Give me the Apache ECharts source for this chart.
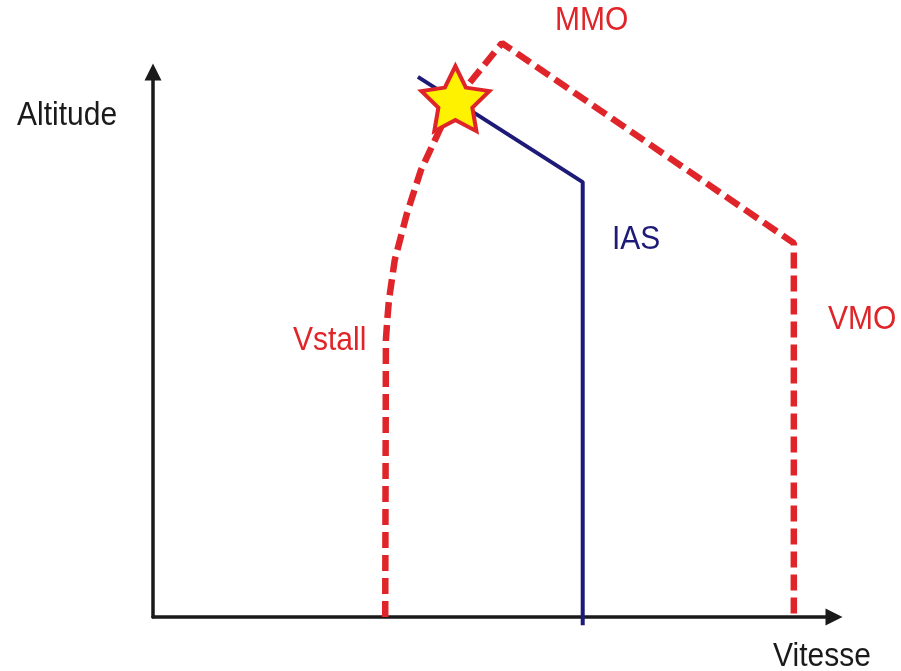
<!DOCTYPE html>
<html>
<head>
<meta charset="utf-8">
<script src="https://cdn.jsdelivr.net/npm/echarts@6/dist/echarts.min.js"></script>
<style>html,body{margin:0;padding:0;background:#fff}#c{width:901px;height:671px}</style>
</head>
<body>
<div id="c"></div>
<script>
// Envelope limits (speed 0-100, altitude 0-100, arbitrary units)
const vstallSpeed = [34.1, 34.2, 34.4, 34.65, 35.5, 37.3, 39.35, 42.1, 44.35];
const vstallAlt   = [0,    50.8, 54.5, 58.2, 65.5, 74.1, 82.0, 89.4, 94.7];
const mmoSpeed    = [44.35, 51.25, 94.1];
const mmoAlt      = [94.7, 105.3, 68.6];
const vmoSpeed    = [94.1, 94.1];
const vmoAlt      = [68.6, 0];
const iasSpeed    = [38.9, 63.1, 63.1];
const iasAlt      = [99.1, 79.8, -1.5];
const starPoint   = [44.4, 95.1];
const labels = {
  yName: 'Altitude', xName: 'Vitesse',
  mmo: 'MMO', vmo: 'VMO', vstall: 'Vstall', ias: 'IAS'
};

const red = '#DF2529', navy = '#1E1B78';
function zip(a, b) { return a.map((v, i) => [v, b[i]]); }
const envelope = zip(vstallSpeed, vstallAlt)
  .concat(zip(mmoSpeed, mmoAlt).slice(1))
  .concat(zip(vmoSpeed, vmoAlt).slice(1));

function starPath(ratio) {
  let pts = [];
  for (let i = 0; i < 10; i++) {
    const r = i % 2 === 0 ? 50 : 50 * ratio;
    const a = -Math.PI / 2 + i * Math.PI / 5;
    pts.push((50 + r * Math.cos(a)).toFixed(2) + ' ' + (50 + r * Math.sin(a)).toFixed(2));
  }
  return 'path://M' + pts.join(' L') + ' Z';
}

const font = '"Liberation Sans", Arial, sans-serif';
function txt(x, y, t, color) {
  return { type: 'text', x: x, y: y, z: 100, scaleY: 1.12,
    style: { text: t, fill: color, font: '30px ' + font, align: 'left', verticalAlign: 'middle' } };
}

const chart = echarts.init(document.getElementById('c'), null, { renderer: 'canvas' });
chart.setOption({
  animation: false,
  backgroundColor: '#fff',
  grid: { left: 153, right: 67, top: 72, bottom: 54 },
  xAxis: {
    type: 'value', min: 0, max: 100,
    axisLine: { show: true, onZero: false, symbol: ['none', 'triangle'], symbolSize: [17, 17],
      lineStyle: { color: '#1a1a1a', width: 3.5 } },
    axisTick: { show: false }, axisLabel: { show: false }, splitLine: { show: false }
  },
  yAxis: {
    type: 'value', min: 0, max: 100,
    axisLine: { show: true, onZero: false, symbol: ['none', 'triangle'], symbolSize: [17, 17],
      lineStyle: { color: '#1a1a1a', width: 3.5 } },
    axisTick: { show: false }, axisLabel: { show: false }, splitLine: { show: false }
  },
  series: [
    { type: 'line', data: envelope, symbol: 'none', clip: false, z: 2,
      lineStyle: { color: red, width: 6.5, type: [16, 7] } },
    { type: 'line', data: zip(iasSpeed, iasAlt), symbol: 'none', clip: false, z: 3,
      lineStyle: { color: navy, width: 4 } },
    { type: 'scatter', data: [starPoint], symbol: starPath(0.5), symbolSize: [68, 65], z: 5, clip: false,
      itemStyle: { color: '#FFF200', borderColor: red, borderWidth: 4, opacity: 1 } }
  ],
  graphic: [
    txt(17, 116, labels.yName, '#1a1a1a'),
    txt(773, 657, labels.xName, '#1a1a1a'),
    txt(555, 21, labels.mmo, red),
    txt(612, 240, labels.ias, navy),
    txt(828, 320, labels.vmo, red),
    txt(293, 341, labels.vstall, red)
  ]
});
</script>
</body>
</html>
